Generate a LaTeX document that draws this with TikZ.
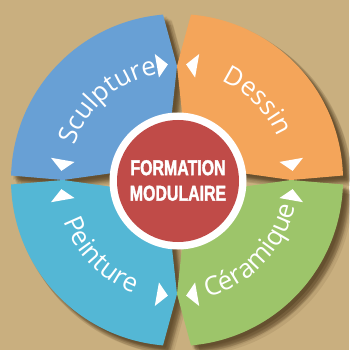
\documentclass[tikz,border=0pt]{standalone}
\usepackage{fontspec}
\setmainfont{Open Sans}
\newfontfamily\condfont[FakeStretch=0.74,FakeBold=1.6]{Liberation Sans Bold}
\usetikzlibrary{decorations.text}
\definecolor{bgc}{RGB}{201,175,127}
\definecolor{bluec}{RGB}{104,160,213}
\definecolor{orangec}{RGB}{244,165,90}
\definecolor{greenc}{RGB}{157,197,106}
\definecolor{cyanc}{RGB}{84,183,213}
\definecolor{redc}{RGB}{192,75,72}
\definecolor{shadc}{RGB}{60,40,15}
\tikzset{
  shadowfill/.style={fill=shadc, opacity=0.09},
  tipfill/.style={fill=white},
  arclabel/.style={decorate, decoration={text along path, text align=center, text={|\fontsize{26}{26}\selectfont\color{white}|#1}}},
}
\def\bluepetal{(94.84:166) -- (0,114) -- (-6.4,55) -- (-55,8.3) -- (-114,0) -- (178.45:166) arc[start angle=178.45,end angle=94.84,radius=166pt] -- cycle}
\def\orangepetal{(1.55:166) -- (114,0) -- (55,8.3) -- (6.4,55) -- (0,114) -- (85.16:166) arc[start angle=85.16,end angle=1.55,radius=166pt] -- cycle}
\def\greenpetal{(-85.16:166) -- (0,-114) -- (6.4,-55) -- (55,-8.3) -- (114,0) -- (-1.55:166) arc[start angle=-1.55,end angle=-85.16,radius=166pt] -- cycle}
\def\cyanpetal{(181.55:166) -- (-114,0) -- (-55,-8.3) -- (-6.4,-55) -- (0,-114) -- (265.16:166) arc[start angle=265.16,end angle=181.55,radius=166pt] -- cycle}
\newcommand{\gaptip}[2]{\fill[tipfill] ({#1+#2*4.5}:116) -- ({#1+#2*10}:128) -- ({#1+#2*10}:104) -- cycle;}
\begin{document}
\begin{tikzpicture}[x=1pt,y=1pt]
\useasboundingbox (-177,-170) rectangle (172,180);
\fill[bgc] (-177,-170) rectangle (172,180);
% shadows
\foreach \dx/\dy in {3/-3,5/-5,4/-6,6/-4,2/-4,4/-2,7/-7,5/-8,8/-5,6/-9,9/-6,10/-10} {
  \fill[shadowfill, shift={(\dx,\dy)}] \bluepetal;
  \fill[shadowfill, shift={(\dx,\dy)}] \orangepetal;
  \fill[shadowfill, shift={(\dx,\dy)}] \greenpetal;
  \fill[shadowfill, shift={(\dx,\dy)}] \cyanpetal;
}
% petals
\fill[bluec] \bluepetal;
\fill[orangec] \orangepetal;
\fill[greenc] \greenpetal;
\fill[cyanc] \cyanpetal;
% small triangles
\gaptip{90}{1}
\gaptip{180}{-1}
\gaptip{90}{-1}
\gaptip{0}{1}
\gaptip{0}{-1}
\gaptip{270}{1}
\gaptip{270}{-1}
\gaptip{180}{1}
% labels along arcs
\path[arclabel=Sculpture] (171:108) arc[start angle=171,end angle=91,radius=108pt];
\path[arclabel=Dessin] (84.5:109) arc[start angle=84.5,end angle=4.5,radius=109pt];
\path[arclabel=Céramique] (-84:121) arc[start angle=-84,end angle=-4,radius=121pt];
\path[arclabel=Peinture] (184.5:121) arc[start angle=184.5,end angle=264.5,radius=121pt];
% centre
\fill[white] (1,-1) circle[radius=68.5pt];
\fill[redc] (1,-1) circle[radius=61pt];
\node[font=\condfont\fontsize{21.5}{25.5}\selectfont, text=white, align=center, inner sep=0pt] (ctr) at (1,-0.5) {FORMATION\\MODULAIRE};
\end{tikzpicture}
\end{document}
